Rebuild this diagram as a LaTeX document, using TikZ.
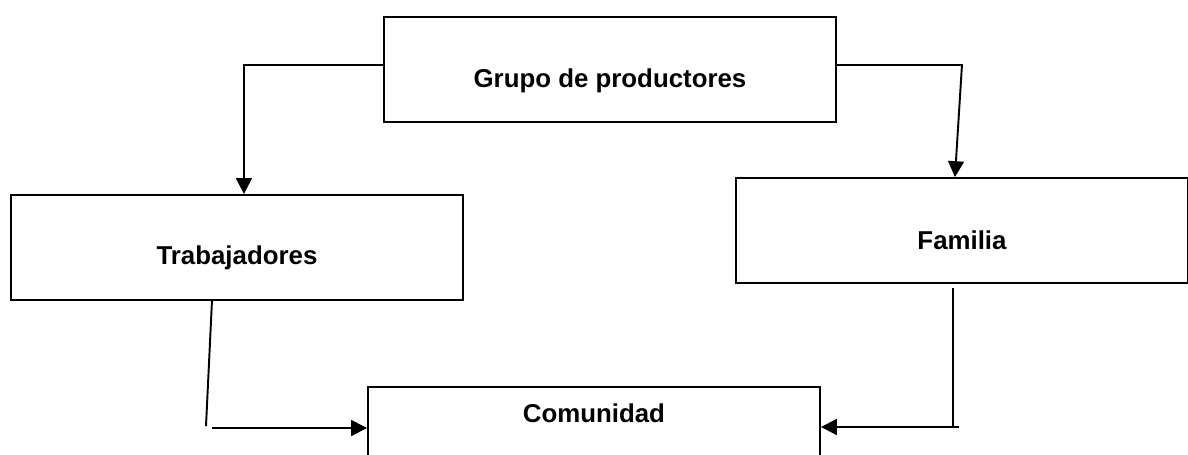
\documentclass[tikz,border=0pt]{standalone}
\usepackage{fontspec}
\setmainfont{Liberation Sans}
\usepackage{tikz}
\usetikzlibrary{arrows.meta}
\usetikzlibrary{positioning}

\begin{document}
\begin{tikzpicture}[
      blk/.style={draw=black,line width=1.1pt,minimum width=9.04cm,minimum height=2.1cm,anchor=north west},
      lbl/.style={font=\bfseries\fontsize{14.7}{17}\selectfont},
      arr/.style={draw=black,line width=1.1pt,-{Triangle[length=9pt,width=9pt]}}
    ]
    \clip (0,0) rectangle (23.76,-9.08);

    \node[blk] (grupo) at (7.66,-0.32) {};
    \node[blk] (trab)  at (0.2,-3.88) {};
    \node[blk] (fam)   at (14.7,-3.54) {};
    \node[blk,minimum height=3cm] (com) at (7.34,-7.72) {};

    \node[lbl] at ([yshift=-1.3cm]grupo.north) {Grupo de productores};
    \node[lbl] at ([yshift=-1.28cm]trab.north) {Trabajadores};
    \node[lbl] at ([yshift=-1.26cm]fam.north)  {Familia};
    \node[lbl] at ([yshift=-0.54cm]com.north)  {Comunidad};

    \coordinate (tend)   at (4.12,-8.52);
    \coordinate (tstart) at (4.24,-8.56);
    \coordinate (fend)   at (19.06,-8.54);
    \coordinate (fstart) at (19.18,-8.54);

    \path[arr] ([yshift=0.09cm]grupo.west) -| ([xshift=0.14cm]trab.north);
    \path[arr] ([yshift=0.09cm]grupo.east) -- ([yshift=0.09cm]grupo.east -| fam.north)
      -- ([xshift=-0.14cm]fam.north);
    \path[draw=black,line width=1.1pt] ([xshift=-0.5cm]trab.south) -- (tend);
    \path[arr] (tstart) -- (tstart -| com.west);
    \path[draw=black,line width=1.1pt] (fend |- fam.south) ++(0,-0.08) -- (fend);
    \path[arr] (fstart) -- (fstart -| com.east);
  \end{tikzpicture}
\end{document}
